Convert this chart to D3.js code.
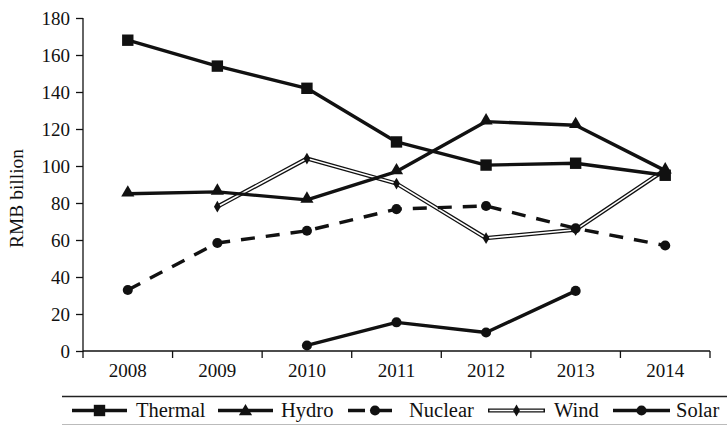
<!DOCTYPE html>
<html>
<head>
<meta charset="utf-8">
<script src="https://cdn.jsdelivr.net/npm/d3@7"></script>
</head>
<body style="margin:0;background:#fff">
<svg id="chart" width="727" height="426" font-family="Liberation Serif" style="display:block"></svg>
<script>
// Annual values, RMB billion
const years = ["2008", "2009", "2010", "2011", "2012", "2013", "2014"];
const thermal = [168, 154, 142, 113, 100.5, 101.5, 95];
const hydro   = [85, 86, 81.7, 97, 124, 122, 97.5];
const nuclear = [33, 58.4, 65, 76.7, 78.4, 66.3, 57];
const wind    = [null, 78, 104, 90.5, 61, 65.5, 98];
const solar   = [null, null, 3, 15.5, 10, 32.5, null];
const yTicks  = [0, 20, 40, 60, 80, 100, 120, 140, 160, 180];
const yLabel  = "RMB billion";

const FONT = '"Liberation Serif"';
const svg = d3.select("#chart");
const mLeft = 83, mRight = 710, mTop = 18, mBottom = 351;

const x = d3.scaleBand().domain(years).range([mLeft, mRight]).padding(0);
const y = d3.scaleLinear().domain([0, 180]).range([mBottom, mTop]);
const cx = d => x(d) + x.bandwidth() / 2;

// Y axis
const yAxis = svg.append("g")
  .attr("transform", `translate(${mLeft},0)`)
  .call(d3.axisLeft(y).tickValues(yTicks).tickSize(7).tickSizeOuter(0).tickPadding(6));
yAxis.attr("font-family", "Liberation Serif").attr("font-size", 19);
yAxis.selectAll("path, line").attr("stroke", "#111").attr("stroke-width", 1.3);
yAxis.selectAll("text").style("font-family", FONT).style("font-size", "19px").attr("fill", "#111");
yAxis.select(".domain").attr("d", `M0,${mTop}V${mBottom + 0.5}`);

// X axis: labels centred in each band, ticks on band boundaries
const xAxis = svg.append("g")
  .attr("transform", `translate(0,${mBottom})`)
  .call(d3.axisBottom(x).tickSize(0).tickPadding(13).tickSizeOuter(0));
xAxis.attr("font-family", "Liberation Serif").attr("font-size", 19);
xAxis.select(".domain").attr("d", `M${mLeft},0H${mRight}`).attr("stroke", "#111").attr("stroke-width", 1.3);
xAxis.selectAll("text").style("font-family", FONT).style("font-size", "19px").attr("fill", "#111");
const bounds = years.map(d => x(d)).concat([x(years[years.length - 1]) + x.bandwidth()]);
xAxis.selectAll("line.bound").data(bounds).join("line")
  .attr("class", "bound")
  .attr("x1", d => d).attr("x2", d => d)
  .attr("y1", 0).attr("y2", 7)
  .attr("stroke", "#111").attr("stroke-width", 1.3);

// Y axis title
svg.append("text")
  .attr("transform", `translate(23,${(mTop + mBottom) / 2 + 14}) rotate(-90)`)
  .attr("text-anchor", "middle")
  .attr("fill", "#111")
  .style("font-family", FONT).style("font-size", "19.5px")
  .text(yLabel);

// Marker shapes
const sym = {
  square:   d3.symbol().type(d3.symbolSquare).size(130),
  triangle: d3.symbol().type(d3.symbolTriangle).size(75),
  circle:   d3.symbol().type(d3.symbolCircle).size(80),
  diamond:  d3.symbol().type(d3.symbolDiamond).size(40)
};

const series = [
  { name: "Thermal", values: thermal, marker: "square", dash: null, dbl: false },
  { name: "Hydro",   values: hydro,   marker: "triangle", dash: null, dbl: false },
  { name: "Nuclear", values: nuclear, marker: "circle", dash: "14,11", dbl: false },
  { name: "Wind",    values: wind,    marker: "diamond", dash: null, dbl: true },
  { name: "Solar",   values: solar,   marker: "circle", dash: null, dbl: false }
];

const line = d3.line()
  .defined(d => d.v != null)
  .x(d => cx(d.year))
  .y(d => y(d.v));

const plot = svg.append("g");
// draw in an order so the thick lines sit over the outlined wind line where they cross
const order = ["Wind", "Nuclear", "Solar", "Hydro", "Thermal"];
order.forEach(name => {
  const s = series.find(t => t.name === name);
  const pts = years.map((yr, i) => ({ year: yr, v: s.values[i] })).filter(d => d.v != null);
  const g = plot.append("g");
  if (s.dbl) {
    g.append("path").attr("d", line(pts)).attr("fill", "none")
      .attr("stroke", "#111").attr("stroke-width", 4.2).attr("stroke-linejoin", "miter");
    g.append("path").attr("d", line(pts)).attr("fill", "none")
      .attr("stroke", "#fff").attr("stroke-width", 1.6).attr("stroke-linejoin", "miter");
  } else {
    g.append("path").attr("d", line(pts)).attr("fill", "none")
      .attr("stroke", "#111").attr("stroke-width", 3.4)
      .attr("stroke-dasharray", s.dash)
      .attr("stroke-linejoin", "round");
  }
  g.selectAll("path.mk").data(pts).join("path")
    .attr("class", "mk")
    .attr("d", sym[s.marker])
    .attr("transform", d => `translate(${cx(d.year)},${y(d.v) + (s.marker === "triangle" ? -1 : 0)})`)
    .attr("fill", "#111");
});

// Legend
const lg = svg.append("g");
lg.append("line").attr("x1", 62).attr("x2", 727).attr("y1", 396.5).attr("y2", 396.5)
  .attr("stroke", "#222").attr("stroke-width", 1.3);
lg.append("line").attr("x1", 62).attr("x2", 727).attr("y1", 424.5).attr("y2", 424.5)
  .attr("stroke", "#bbb").attr("stroke-width", 1);

const legendPos = [
  { name: "Thermal", x1: 72,  x2: 127, tx: 136 },
  { name: "Hydro",   x1: 218, x2: 273, tx: 281 },
  { name: "Nuclear", x1: 348, x2: 402, tx: 409 },
  { name: "Wind",    x1: 488, x2: 545, tx: 554 },
  { name: "Solar",   x1: 613, x2: 670, tx: 676 }
];
const ly = 410.5;
legendPos.forEach(p => {
  const s = series.find(t => t.name === p.name);
  const mid = (p.x1 + p.x2) / 2;
  if (s.dbl) {
    lg.append("line").attr("x1", p.x1).attr("x2", p.x2).attr("y1", ly).attr("y2", ly)
      .attr("stroke", "#111").attr("stroke-width", 4.2);
    lg.append("line").attr("x1", p.x1 + 1.5).attr("x2", p.x2 - 1.5).attr("y1", ly).attr("y2", ly)
      .attr("stroke", "#fff").attr("stroke-width", 1.6);
  } else {
    lg.append("line").attr("x1", p.x1).attr("x2", p.x2).attr("y1", ly).attr("y2", ly)
      .attr("stroke", "#111").attr("stroke-width", 3.4)
      .attr("stroke-dasharray", s.dash ? "17,10" : null);
  }
  lg.append("path").attr("d", sym[s.marker]).attr("fill", "#111")
    .attr("transform", `translate(${mid},${ly + (s.marker === "triangle" ? 1 : 0)})`);
  lg.append("text").attr("x", p.tx).attr("y", ly + 6.5).attr("fill", "#111")
    .style("font-family", FONT).style("font-size", "20.5px").text(p.name);
});
</script>
</body>
</html>
